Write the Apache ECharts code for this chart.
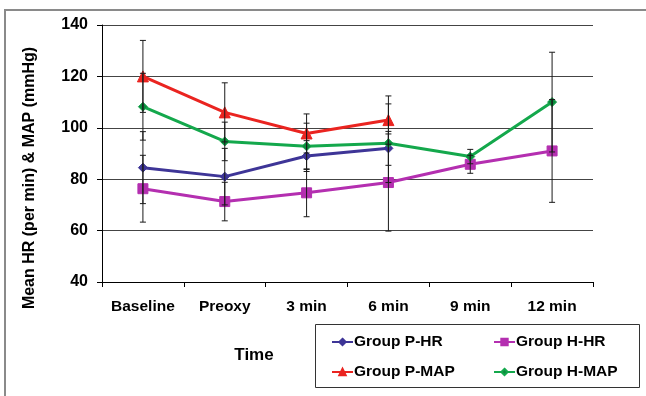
<!DOCTYPE html>
<html><head><meta charset="utf-8">
<script src="https://cdn.jsdelivr.net/npm/echarts@6/dist/echarts.min.js"></script>
<style>html,body{margin:0;padding:0;background:#fff}#c{width:646px;height:396px}</style>
</head><body><div id="c"></div>
<script>
const categories = ['Baseline', 'Preoxy', '3 min', '6 min', '9 min', '12 min'];
const yTicks = [40, 60, 80, 100, 120, 140];
const pHR = [84.5, 81, 89, 92, null, null];
const hHR = [76.3, 71.3, 74.7, 78.7, 85.8, 91];
const pMAP = [120, 106, 97.8, 103, null, null];
const hMAP = [108.2, 94.7, 92.8, 94, 88.8, 110];
const pHRsd = [14, 11, 6, 6.6, null, null];
const hHRsd = [13, 7.5, 9.3, 18.9, 3.5, 20];
const pMAPsd = [14, 11.5, 7.6, 9.4, null, null];
const hMAPsd = [13, 7.5, 9, 15.3, 2.8, 19.4];

const FONT = 'Liberation Sans, Arial, sans-serif';
function errData(vals, sds) {
  const out = [];
  vals.forEach((v, i) => { if (v != null && sds[i] != null) out.push([i, v - sds[i], v + sds[i]]); });
  return out;
}
function errSeries(name, vals, sds) {
  return {
    type: 'custom', name: name, data: errData(vals, sds), z: 5, silent: true,
    renderItem: function (params, api) {
      const x = api.value(0), lo = api.value(1), hi = api.value(2);
      const a = api.coord([x, hi]), b = api.coord([x, lo]);
      const w = 3;
      const st = { stroke: '#1a1a1a', lineWidth: 1 };
      return { type: 'group', children: [
        { type: 'line', shape: { x1: a[0], y1: a[1], x2: b[0], y2: b[1] }, style: st },
        { type: 'line', shape: { x1: a[0] - w, y1: a[1], x2: a[0] + w, y2: a[1] }, style: st },
        { type: 'line', shape: { x1: b[0] - w, y1: b[1], x2: b[0] + w, y2: b[1] }, style: st }
      ]};
    }
  };
}
function lineSeries(name, vals, color, symbol, size, mcolor) {
  return {
    type: 'line', name: name, data: vals, color: color, symbol: symbol, symbolSize: size,
    showAllSymbol: true, connectNulls: false, z: 3,
    lineStyle: { color: color, width: 3 },
    itemStyle: { color: mcolor || color, borderColor: color, borderWidth: 1 }
  };
}
const legendBase = { orient: 'horizontal', itemWidth: 21, itemHeight: 8, itemGap: 0,
  lineStyle: { width: 2 },
  textStyle: { fontFamily: FONT, fontSize: 15.5, fontWeight: 'bold', color: '#000', padding: [0, 0, 0, -4] } };

const chart = echarts.init(document.getElementById('c'), null, { renderer: 'canvas' });
chart.setOption({
  animation: false,
  backgroundColor: '#fff',
  grid: { left: 102, right: 53, top: 25, bottom: 114 },
  xAxis: {
    type: 'category', data: categories, boundaryGap: true,
    axisLine: { lineStyle: { color: '#000', width: 1 } },
    axisTick: { show: true, length: 5, alignWithLabel: false, lineStyle: { color: '#000' } },
    axisLabel: { interval: 0, fontFamily: FONT, fontSize: 15.5, fontWeight: 'bold', color: '#000', margin: 17 }
  },
  yAxis: {
    type: 'value', min: 40, max: 140, interval: 20,
    axisLine: { show: true, lineStyle: { color: '#000', width: 1 } },
    axisTick: { show: true, length: 5, lineStyle: { color: '#000' } },
    splitLine: { lineStyle: { color: '#444', width: 1 } },
    axisLabel: { fontFamily: FONT, fontSize: 16, fontWeight: 'bold', color: '#000', margin: 14,
      formatter: v => yTicks.includes(v) ? String(v) : '' }
  },
  legend: [
    Object.assign({ data: ['Group P-HR'], left: 326, top: 329 }, legendBase),
    Object.assign({ data: ['Group H-HR'], left: 488, top: 329 }, legendBase),
    Object.assign({ data: ['Group P-MAP'], left: 326, top: 359 }, legendBase),
    Object.assign({ data: ['Group H-MAP'], left: 488, top: 359 }, legendBase)
  ],
  graphic: [
    { type: 'rect', shape: { x: 5, y: 10, width: 660, height: 400 }, style: { fill: null, stroke: '#8a8a8a', lineWidth: 2 }, silent: true },
    { type: 'rect', shape: { x: 315.5, y: 324.5, width: 324, height: 63 }, style: { fill: '#fff', stroke: '#333', lineWidth: 1 }, z: -1, silent: true },
    { type: 'text', x: 254, y: 355, style: { text: 'Time', fontFamily: FONT, fontSize: 17, fontWeight: 'bold', fill: '#000', textAlign: 'center', textVerticalAlign: 'middle' } },
    { type: 'text', x: 30, y: 178, rotation: Math.PI / 2, style: { text: 'Mean HR (per min) & MAP (mmHg)', fontFamily: FONT, fontSize: 16, fontWeight: 'bold', fill: '#000', textAlign: 'center', textVerticalAlign: 'middle' } }
  ],
  series: [
    errSeries('err1', pHR, pHRsd),
    errSeries('err2', hHR, hHRsd),
    errSeries('err3', pMAP, pMAPsd),
    errSeries('err4', hMAP, hMAPsd),
    lineSeries('Group P-HR', pHR, '#3e3597', 'diamond', 9),
    lineSeries('Group H-HR', hHR, '#b42fb0', 'rect', 10),
    lineSeries('Group P-MAP', pMAP, '#ea2420', 'triangle', 11),
    lineSeries('Group H-MAP', hMAP, '#14a84c', 'diamond', 9, '#0b8a3c')
  ]
});
</script></body></html>
